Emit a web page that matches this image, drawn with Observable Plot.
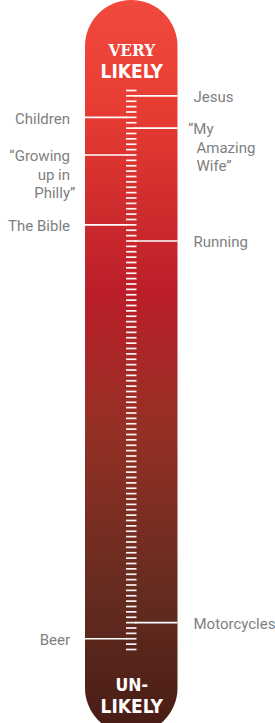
<!DOCTYPE html>
<html><head><meta charset="utf-8">
<script src="https://cdn.jsdelivr.net/npm/d3@7"></script>
<script src="https://cdn.jsdelivr.net/npm/@observablehq/plot@0.6"></script>
<style>body{margin:0;background:#fff}#chart svg{display:block}</style>
</head><body><div id="chart"></div>
<script>
// ---- data ----
const labelNames = ["Jesus", "Children", "“My\nAmazing\nWife”", "“Growing\nup in\nPhilly”", "The Bible", "Running", "Motorcycles", "Beer"];
const labelValues = [103, 99, 97, 92, 79, 76, 5, 2];
const labelSides = ["right", "left", "right", "left", "left", "right", "right", "left"];
const tickValues = d3.range(0, 105);
const topTitle = ["VERY", "LIKELY"];
const bottomTitle = ["UN-", "LIKELY"];

// ---- layout ----
const W = 275, H = 723;
const Y_TOP_PX = 90, Y_BOT_PX = 649;
const yPix = d3.scaleLinear([0, 104], [Y_BOT_PX, Y_TOP_PX]);
const PX_PER_UNIT = (Y_BOT_PX - Y_TOP_PX) / 104;
const TUBE_L = 85, TUBE_R = 177.5, TUBE_R_RADIUS = 46;
const TICK_L = 126, TICK_R = 136.5;
const LEFT_X = 69.5, RIGHT_X = 193, HANG = 5.5, LINE_H = 18.5;
const CX = (TUBE_L + TUBE_R) / 2;

const rows = labelNames.flatMap((name, i) => name.split("\n").map((line, j) => ({
  line, side: labelSides[i],
  value: labelValues[i] - j * LINE_H / PX_PER_UNIT,
  x: labelSides[i] === "left"
    ? LEFT_X + (line.endsWith("”") ? HANG : 0)
    : RIGHT_X + (labelNames[i].includes("\n") ? 3 : 0) - (line.startsWith("“") ? HANG + 3 : 0)
})));
const leaders = labelNames.map((name, i) => ({
  value: labelValues[i],
  x1: labelSides[i] === "left" ? TUBE_L : TICK_R - 1.5,
  x2: labelSides[i] === "left" ? TICK_L + 1 : TUBE_R
}));

const labelFont = {fontFamily: "Roboto, 'Liberation Sans', sans-serif", fontSize: 15, fill: "#808080", letterSpacing: -0.25};

const plot = Plot.plot({
  width: W, height: H,
  marginTop: 0, marginBottom: 0, marginLeft: 0, marginRight: 0,
  x: {domain: [0, W], range: [0, W], axis: null},
  y: {domain: [0, 104], range: [Y_BOT_PX, Y_TOP_PX], axis: null},
  marks: [
    Plot.rect([0], {x1: TUBE_L, x2: TUBE_R, y1: yPix.invert(0), y2: yPix.invert(H + 11), rx: TUBE_R_RADIUS, fill: "url(#tubeGrad)"}),
    Plot.ruleY(tickValues, {y: d => d, x1: TICK_L, x2: TICK_R, stroke: "white", strokeWidth: 1.7, strokeOpacity: 0.95}),
    Plot.ruleY(leaders, {y: "value", x1: "x1", x2: "x2", stroke: "white", strokeWidth: 1.6}),
    Plot.text(rows.filter(r => r.side === "left"), {x: "x", y: "value", text: "line", textAnchor: "end", dy: 1.5, ...labelFont}),
    Plot.text(rows.filter(r => r.side === "right"), {x: "x", y: "value", text: "line", textAnchor: "start", dy: 1.5, ...labelFont}),
    Plot.text([topTitle[0]], {x: CX, frameAnchor: "top", dy: 43, text: d => d, fill: "white", fontWeight: "bold", fontSize: 17, fontFamily: "'DejaVu Serif Condensed', 'DejaVu Serif', serif", letterSpacing: 2}),
    Plot.text([topTitle[1]], {x: CX, frameAnchor: "top", dy: 63.5, text: d => d, fill: "white", fontWeight: "bold", fontSize: 19, fontFamily: "'DejaVu Sans Condensed', 'DejaVu Sans', sans-serif", letterSpacing: 2}),
    Plot.text([bottomTitle[0]], {x: CX, frameAnchor: "top", dy: 678, text: d => d, fill: "white", fontWeight: "bold", fontSize: 17.5, fontFamily: "'DejaVu Sans Condensed', 'DejaVu Sans', sans-serif", letterSpacing: 2}),
    Plot.text([bottomTitle[1]], {x: CX, frameAnchor: "top", dy: 699, text: d => d, fill: "white", fontWeight: "bold", fontSize: 19, fontFamily: "'DejaVu Sans Condensed', 'DejaVu Sans', sans-serif", letterSpacing: 2})
  ]
});

const svg = d3.select(plot);
const grad = svg.insert("defs", ":first-child").append("linearGradient")
  .attr("id", "tubeGrad").attr("x1", 0).attr("y1", 0).attr("x2", 0).attr("y2", 1);
[[0, "#f2493d"], [0.14, "#e83d33"], [0.4, "#bb1e29"], [0.58, "#953024"], [0.82, "#632b20"], [1, "#471c14"]]
  .forEach(([o, c]) => grad.append("stop").attr("offset", o).attr("stop-color", c));
document.getElementById("chart").append(plot);
</script>
</body></html>
